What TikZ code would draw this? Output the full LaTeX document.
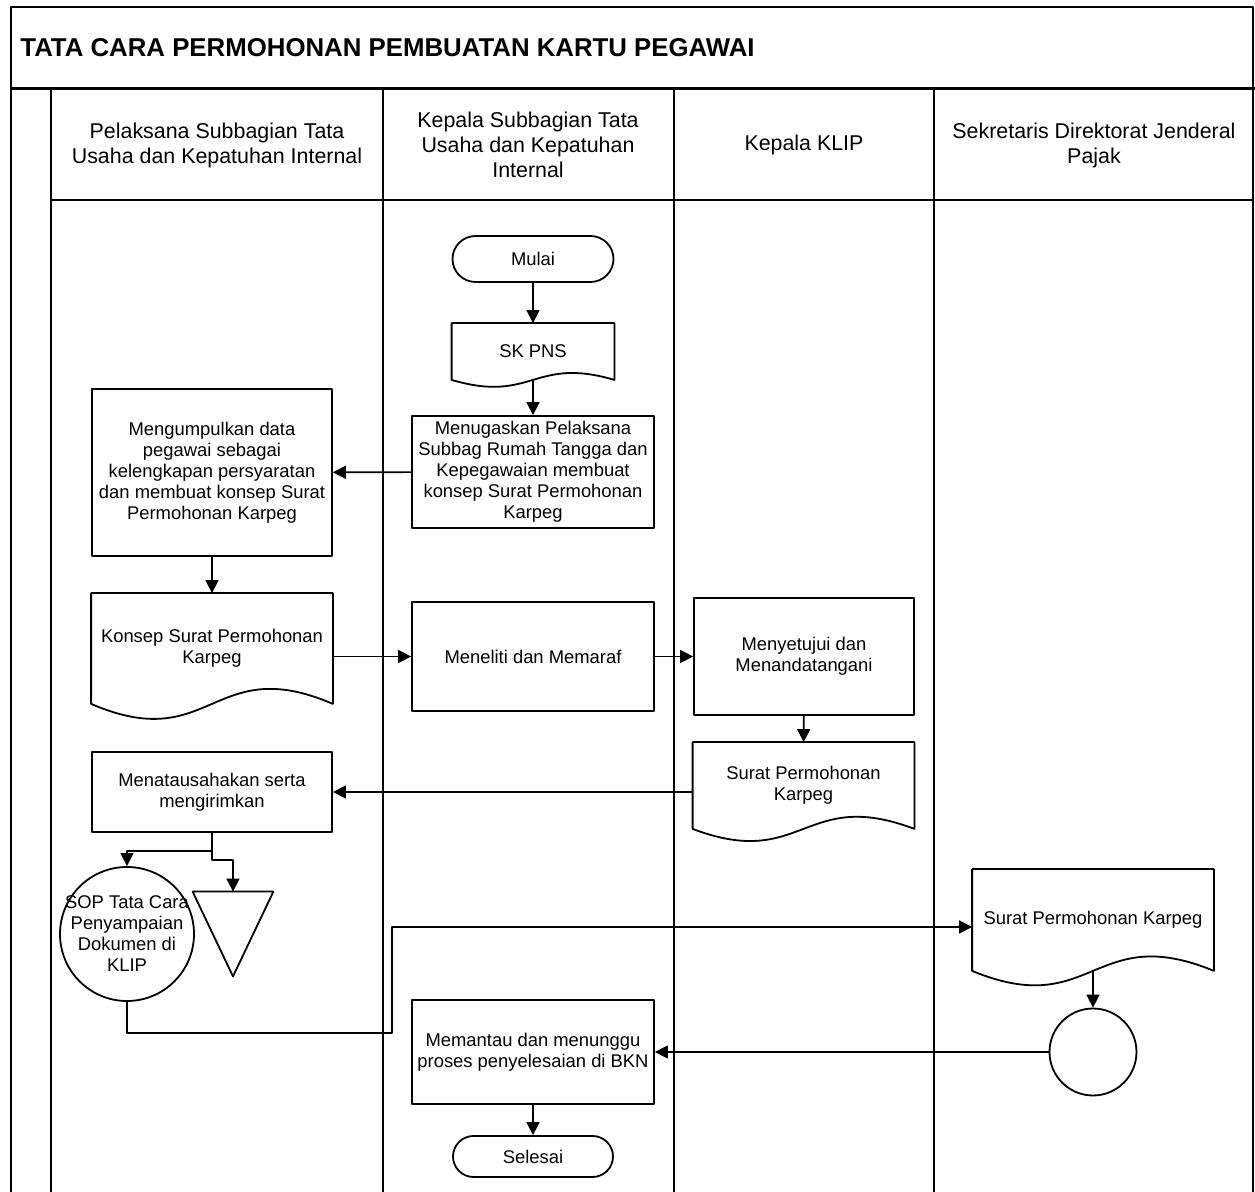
\documentclass[tikz,border=0pt]{standalone}
\usepackage{fontspec}
\setmainfont{Liberation Sans}
\usetikzlibrary{arrows.meta,calc}
\tikzset{
    every picture/.style={line cap=round,line join=round},
    shapeline/.style={draw=black,line width=0.9pt},
    laneline/.style={draw=black,line width=1pt,line cap=rect},
    lanehead/.style={font=\fontsize{10.7}{12.5}\selectfont,align=center,inner sep=0pt},
    titletext/.style={font=\fontsize{12.9}{14}\selectfont\bfseries,inner sep=0pt},
    procbox/.style={shapeline,inner sep=1pt,align=center,
      font=\fontsize{9.2}{10.5}\selectfont},
    docbox/.style={procbox,draw=none},
    termbox/.style={procbox,minimum width=80.5pt},
    connbox/.style={shapeline,circle,inner sep=0pt},
    tribox/.style={draw=none,inner sep=0pt,minimum width=40pt,minimum height=42pt},
    flowarrow/.style={-{Triangle[length=6.5pt,width=6.5pt]},draw=black,line width=0.8pt},
    flowline/.style={draw=black,line width=0.8pt}
}
% document symbol: straight top and sides, wavy bottom
\newcommand{\docshape}[2]{%
  \draw[shapeline] (#1.south west) -- (#1.north west) -- (#1.north east) -- (#1.south east)
    .. controls ($(#1.south)+(0,-#2)$) and ($(#1.south)+(0,#2)$) .. (#1.south west) -- cycle;}
\begin{document}
\begin{tikzpicture}[x=0.5pt,y=-0.5pt]
  \useasboundingbox (0,0) rectangle (1255,1192);
  % frame and swimlanes
  \draw[laneline] (11,1192) -- (11,7) -- (1253,7) -- (1253,1192);
  \draw[laneline,line width=1.5pt] (11,89) -- (1253,89);
  \draw[laneline] (51,89) -- (51,1192);
  \foreach \x in {383,674,934}
    \draw[laneline] (\x,89) -- (\x,1192);
  \draw[laneline] (51,200) -- (1253,200);
  \node[titletext,anchor=west] (judul) at (20,48) {TATA CARA PERMOHONAN PEMBUATAN KARTU PEGAWAI};
  \node[lanehead] (hdA) at (217,145) {Pelaksana Subbagian Tata\\Usaha dan Kepatuhan Internal};
  \node[lanehead] (hdB) at (528,145) {Kepala Subbagian Tata\\Usaha dan Kepatuhan\\Internal};
  \node[lanehead] (hdC) at (804,145) {Kepala KLIP};
  \node[lanehead] (hdD) at (1094,145) {Sekretaris Direktorat Jenderal\\Pajak};

  % steps
  \node[termbox,minimum height=23pt,rounded corners=11.5pt] (mulai) at (533,259) {Mulai};
  \node[docbox,minimum width=80.5pt,minimum height=27.5pt] (skpns) at (533,351.5) {SK PNS};
  \docshape{skpns}{24}
  \node[procbox,minimum width=121pt,minimum height=56pt] (tugas) at (533,472)
    {Menugaskan Pelaksana\\Subbag Rumah Tangga dan\\Kepegawaian membuat\\konsep Surat Permohonan\\Karpeg};
  \node[procbox,minimum width=120pt,minimum height=83.5pt] (kumpul) at (212,472.5)
    {Mengumpulkan data\\pegawai sebagai\\kelengkapan persyaratan\\dan membuat konsep Surat\\Permohonan Karpeg};
  \node[docbox,minimum width=120pt,minimum height=54.5pt] (konsep) at (212,648.5)
    {Konsep Surat Permohonan\\Karpeg};
  \docshape{konsep}{52}
  \node[procbox,minimum width=121pt,minimum height=54.5pt] (teliti) at (533,656.5) {Meneliti dan Memaraf};
  \node[procbox,minimum width=110pt,minimum height=58.5pt] (setuju) at (804,656.5)
    {Menyetujui dan\\Menandatangani};
  \node[docbox,minimum width=110pt,minimum height=42.5pt] (suratA) at (803.5,785.5)
    {Surat Permohonan\\Karpeg};
  \docshape{suratA}{42}
  \node[procbox,minimum width=120pt,minimum height=40pt] (tatausaha) at (212,792)
    {Menatausahakan serta\\mengirimkan};
  \node[connbox,minimum size=67pt,
    label={[procbox,draw=none]center:SOP Tata Cara\\Penyampaian\\Dokumen di\\KLIP}] (sop) at (127,934) {};
  \node[tribox] (arsip) at (233,934) {};
  \draw[shapeline] (arsip.north west) -- (arsip.north east) -- (arsip.south) -- cycle;
  \node[docbox,minimum width=120pt,minimum height=50pt] (suratB) at (1093,920) {Surat Permohonan Karpeg};
  \docshape{suratB}{50}
  \node[connbox,minimum size=43.5pt] (kirim) at (1093,1052) {};
  \node[procbox,minimum width=121pt,minimum height=52pt] (pantau) at (533,1052)
    {Memantau dan menunggu\\proses penyelesaian di BKN};
  \node[termbox,minimum width=80pt,minimum height=20.5pt,rounded corners=10.25pt] (selesai) at (533,1156.5) {Selesai};

  % connectors
  \draw[flowarrow] (mulai) -- (skpns);
  \draw[flowarrow] (skpns.south) -- (tugas);
  \draw[flowarrow] (tugas) -- (kumpul);
  \draw[flowarrow] (kumpul) -- (konsep);
  \draw[flowarrow] (teliti.west -| konsep.east) -- (teliti);
  \draw[flowarrow] (teliti) -- (setuju);
  \draw[flowarrow] (setuju) -- (suratA);
  \draw[flowarrow] (suratA.west |- tatausaha.east) -- (tatausaha);
  \draw[flowarrow] (tatausaha.south) -- ++(0,18) -| (sop.north);
  \draw[flowarrow] (tatausaha.south) -- ++(0,27) -| (arsip.north);
  \draw[flowarrow] (sop.south) |- (392,1033) |- ($(suratB.west)+(0,7)$);
  \draw[flowarrow] (suratB.south) -- (kirim);
  \draw[flowarrow] (kirim) -- (pantau);
  \draw[flowarrow] (pantau) -- (selesai);
\end{tikzpicture}
\end{document}
